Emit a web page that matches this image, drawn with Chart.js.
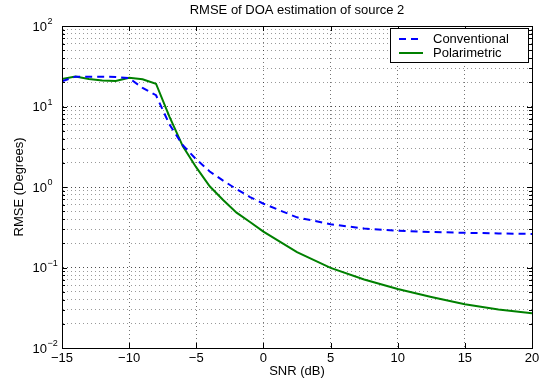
<!DOCTYPE html>
<html>
<head>
<meta charset="utf-8">
<script src="https://cdn.jsdelivr.net/npm/chart.js@4/dist/chart.umd.min.js"></script>
<style>
  html, body { margin: 0; padding: 0; background: #fff; }
  #wrap { width: 552px; height: 383px; }
</style>
</head>
<body>
<div id="wrap"><canvas id="rmse"></canvas></div>
<script>
const snr = [-15, -14, -13, -12, -11, -10, -9, -8, -7, -6, -5, -4, -3, -2, -1, 0, 2.5, 5, 7.5, 10, 12.5, 15, 17.5, 20];
const conventional = [20.5, 23.5, 23.5, 23.5, 23.3, 22.5, 17, 13.8, 6.0, 3.3, 2.2, 1.56, 1.2, 0.94, 0.75, 0.62, 0.42, 0.345, 0.305, 0.286, 0.276, 0.27, 0.265, 0.261];
const polarimetric = [22, 23.5, 22, 21, 20.8, 22.8, 21.8, 19.2, 7.5, 3.2, 1.75, 1.02, 0.69, 0.48, 0.367, 0.279, 0.155, 0.099, 0.071, 0.054, 0.043, 0.035, 0.030, 0.027];
const xTicks = [-15, -10, -5, 0, 5, 10, 15, 20];
const yExponents = [-2, -1, 0, 1, 2];

const FONT = '"Liberation Sans", Arial, Helvetica, sans-serif';
const toPoints = vals => snr.map((x, i) => ({ x: x, y: vals[i] }));

// MATLAB style box, inward ticks, 10^n labels and the legend
const matlabAxes = {
  id: 'matlabAxes',
  afterDraw(chart) {
    const ctx = chart.ctx;
    const a = chart.chartArea;
    const xs = chart.scales.x, ys = chart.scales.y;
    ctx.save();
    ctx.strokeStyle = '#000';
    ctx.lineWidth = 1;
    ctx.strokeRect(Math.round(a.left) + 0.5, Math.round(a.top) + 0.5,
                   Math.round(a.right - a.left), Math.round(a.bottom - a.top));

    ctx.beginPath();
    ys.ticks.forEach(t => {
      const y = Math.round(ys.getPixelForValue(t.value)) + 0.5;
      const len = t.major ? 5 : 3;
      ctx.moveTo(a.left, y); ctx.lineTo(a.left + len, y);
      ctx.moveTo(a.right, y); ctx.lineTo(a.right - len, y);
    });
    xTicks.forEach(v => {
      const x = Math.round(xs.getPixelForValue(v)) + 0.5;
      ctx.moveTo(x, a.bottom); ctx.lineTo(x, a.bottom - 5);
      ctx.moveTo(x, a.top); ctx.lineTo(x, a.top + 5);
    });
    ctx.stroke();

    // y tick labels as 10 with raised exponent
    ctx.fillStyle = '#000';
    ctx.textBaseline = 'middle';
    yExponents.forEach(e => {
      const y = ys.getPixelForValue(Math.pow(10, e));
      ctx.font = '13px ' + FONT;
      ctx.textAlign = 'right';
      ctx.fillText('10', 47, y + 1);
      ctx.font = '9px ' + FONT;
      ctx.textAlign = 'left';
      ctx.fillText(e < 0 ? '\u2212' + (-e) : String(e), 47.5, y - 4);
    });

    // legend box
    const bx = a.right - 142, by = a.top + 2, bw = 138, bh = 34;
    ctx.fillStyle = '#fff';
    ctx.fillRect(bx, by, bw, bh);
    ctx.strokeStyle = '#000';
    ctx.strokeRect(bx + 0.5, by + 0.5, bw, bh);
    chart.data.datasets.forEach((ds, i) => {
      const ly = by + 11 + i * 14;
      ctx.strokeStyle = ds.borderColor;
      ctx.lineWidth = 2;
      ctx.setLineDash(ds.borderDash || []);
      ctx.beginPath();
      ctx.moveTo(bx + 9, ly); ctx.lineTo(bx + 33, ly);
      ctx.stroke();
      ctx.setLineDash([]);
      ctx.fillStyle = '#000';
      ctx.font = '13px ' + FONT;
      ctx.textAlign = 'left';
      ctx.fillText(ds.label, bx + 43, ly);
    });
    ctx.restore();
  }
};

new Chart(document.getElementById('rmse').getContext('2d'), {
  type: 'line',
  data: {
    datasets: [{
      label: 'Conventional',
      data: toPoints(conventional),
      borderColor: '#0000ff',
      borderWidth: 2,
      borderDash: [7, 5],
      pointRadius: 0,
      tension: 0
    }, {
      label: 'Polarimetric',
      data: toPoints(polarimetric),
      borderColor: '#008000',
      borderWidth: 2,
      pointRadius: 0,
      tension: 0
    }]
  },
  options: {
    responsive: true,
    maintainAspectRatio: false,
    animation: false,
    layout: { padding: { right: 20 } },
    plugins: {
      legend: { display: false },
      tooltip: { enabled: false },
      title: {
        display: true,
        fullSize: false,
        text: 'RMSE of DOA estimation of source 2',
        color: '#000',
        font: { family: FONT, size: 13, weight: 'normal' },
        padding: { top: 3, bottom: 7.4 }
      }
    },
    scales: {
      x: {
        type: 'linear',
        min: -15,
        max: 20,
        afterBuildTicks: s => { s.ticks = xTicks.map(v => ({ value: v })); },
        afterFit: s => { s.height = 35; },
        ticks: {
          color: '#000',
          font: { family: FONT, size: 13 },
          padding: 3,
          maxRotation: 0,
          callback: v => String(v).replace('-', '\u2212')
        },
        grid: {
          drawTicks: false,
          color: 'rgba(0,0,0,0.55)'
        },
        border: { display: true, color: '#000', width: 1, dash: [1, 3] },
        title: {
          display: true,
          text: 'SNR (dB)',
          color: '#000',
          font: { family: FONT, size: 13 },
          padding: { top: 0, bottom: 4 }
        }
      },
      y: {
        type: 'logarithmic',
        min: 0.01,
        max: 100,
        afterBuildTicks: s => {
          const t = [];
          yExponents.forEach(e => {
            for (let m = 1; m <= 9; m++) {
              if (e === 2 && m > 1) break;
              t.push({ value: m * Math.pow(10, e), major: m === 1 });
            }
          });
          s.ticks = t;
        },
        afterFit: s => { s.width = 62; },
        ticks: { display: false },
        grid: {
          drawTicks: false,
          color: ctx => (ctx.tick && ctx.tick.major) ? 'rgba(0,0,0,0.7)' : 'rgba(0,0,0,0.4)'
        },
        border: { display: true, color: '#000', width: 1, dash: [1, 3] },
        title: {
          display: true,
          text: 'RMSE (Degrees)',
          color: '#000',
          font: { family: FONT, size: 13 },
          padding: { top: 12, bottom: 0 }
        }
      }
    }
  },
  plugins: [matlabAxes]
});
</script>
</body>
</html>
